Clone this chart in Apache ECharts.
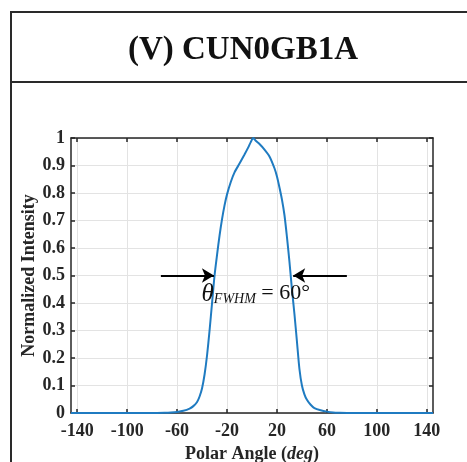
<!DOCTYPE html>
<html>
<head>
<meta charset="utf-8">
<script src="https://cdn.jsdelivr.net/npm/echarts@6/dist/echarts.min.js"></script>
<style>
html,body{margin:0;padding:0;background:#fff;}
#chart{width:467px;height:462px;}
</style>
</head>
<body>
<div id="chart"></div>
<script>
// ---- data ----
const titleText = '(V) CUN0GB1A';
const xTicks = [-140, -100, -60, -20, 20, 60, 100, 140];
const xRange = [-145, 145];
const yRange = [0, 1];
const angles = [-145,-130,-110,-90,-80,-70,-65,-60,-55,-50,-47,-44,-42,-40,-38,-36,-34,-32,-30,-28,-26,-24,-22,-20,-17,-14,-10,-6,-3,-1,1,3,6,10,14,18,20,22,24,26,28,30,32,34,36,38,40,42,44,47,50,55,60,65,70,80,100,120,145];
const intensity = [0,0,0,0,0,0.001,0.002,0.004,0.008,0.016,0.025,0.04,0.06,0.09,0.14,0.21,0.30,0.40,0.50,0.575,0.645,0.705,0.755,0.795,0.84,0.875,0.907,0.94,0.966,0.985,1.0,0.99,0.978,0.958,0.933,0.89,0.86,0.82,0.776,0.72,0.64,0.55,0.45,0.36,0.26,0.16,0.10,0.068,0.048,0.03,0.018,0.01,0.005,0.002,0.001,0,0,0,0];
const leftArrow = [[-73, 0.5], [-30.5, 0.5]];
const rightArrow = [[76, 0.5], [33, 0.5]];
const annotationAt = [-40, 0.475];

const serif = '"Liberation Serif","Times New Roman",serif';
const ink = '#262626';
const chart = echarts.init(document.getElementById('chart'), null, {renderer: 'canvas'});

const lineData = angles.map((a, i) => [a, intensity[i]]);

chart.setOption({
  animation: false,
  backgroundColor: '#fff',
  grid: {left: 71, top: 138, right: 34, bottom: 49, containLabel: false, outerBoundsMode: 'none'},
  graphic: [
    {type: 'rect', shape: {x: 11, y: 12, width: 480, height: 480}, style: {fill: 'none', stroke: '#2a2a2a', lineWidth: 2}, z: 100},
    {type: 'line', shape: {x1: 11, y1: 82, x2: 467, y2: 82}, style: {stroke: '#2a2a2a', lineWidth: 2}, z: 100},
    {type: 'text', x: 243, y: 50, style: {text: titleText, font: 'bold 33px ' + serif, fill: '#111', align: 'center', verticalAlign: 'middle'}, z: 100}
  ],
  xAxis: [
    {
      type: 'value', min: xRange[0], max: xRange[1], position: 'bottom',
      name: 'Polar Angle ({i|deg})', nameLocation: 'middle', nameGap: 28,
      nameTextStyle: {fontFamily: serif, fontWeight: 'bold', fontSize: 18, color: ink,
        rich: {i: {fontFamily: serif, fontWeight: 'bold', fontStyle: 'italic', fontSize: 18, color: ink}}},
      axisLine: {show: true, onZero: false, lineStyle: {color: ink, width: 1.5}},
      axisTick: {show: true, inside: true, length: 4, customValues: xTicks, lineStyle: {color: ink, width: 1.5}},
      axisLabel: {customValues: xTicks, fontFamily: serif, fontWeight: 'bold', fontSize: 18, color: ink, margin: 9},
      splitLine: {show: true, lineStyle: {color: '#e3e3e3', width: 1}}
    },
    {
      type: 'value', min: xRange[0], max: xRange[1], position: 'top',
      axisLine: {show: true, onZero: false, lineStyle: {color: ink, width: 1.5}},
      axisTick: {show: true, inside: true, length: 4, customValues: xTicks, lineStyle: {color: ink, width: 1.5}},
      axisLabel: {show: false},
      splitLine: {show: false}
    }
  ],
  yAxis: [
    {
      type: 'value', min: yRange[0], max: yRange[1], interval: 0.1, position: 'left',
      name: 'Normalized Intensity', nameLocation: 'middle', nameGap: 33, nameMoveOverlap: false,
      nameTextStyle: {fontFamily: serif, fontWeight: 'bold', fontSize: 18, color: ink},
      axisLine: {show: true, onZero: false, lineStyle: {color: ink, width: 1.5}},
      axisTick: {show: true, inside: true, length: 4, lineStyle: {color: ink, width: 1.5}},
      axisLabel: {fontFamily: serif, fontWeight: 'bold', fontSize: 18, color: ink, margin: 6},
      splitLine: {show: true, lineStyle: {color: '#e3e3e3', width: 1}}
    },
    {
      type: 'value', min: yRange[0], max: yRange[1], interval: 0.1, position: 'right',
      axisLine: {show: true, onZero: false, lineStyle: {color: ink, width: 1.5}},
      axisTick: {show: true, inside: true, length: 4, lineStyle: {color: ink, width: 1.5}},
      axisLabel: {show: false},
      splitLine: {show: false}
    }
  ],
  series: [
    {
      type: 'line', data: lineData, showSymbol: false, smooth: 0.25,
      lineStyle: {color: '#1f7bc1', width: 2}, z: 3,
      markLine: {
        silent: true, symbol: ['none', 'arrow'], symbolSize: [11, 12], animation: false,
        label: {show: false},
        lineStyle: {color: '#000', width: 2, type: 'solid'},
        data: [
          [{coord: leftArrow[0]}, {coord: leftArrow[1]}],
          [{coord: rightArrow[0]}, {coord: rightArrow[1]}]
        ]
      },
      markPoint: {
        silent: true, symbol: 'rect', symbolSize: 1, itemStyle: {color: 'rgba(0,0,0,0)'},
        label: {
          show: true, position: [0, 0], align: 'left', verticalAlign: 'top',
          formatter: '{t|θ}{s|FWHM}{r| = 60°}',
          rich: {
            t: {fontFamily: serif, fontStyle: 'italic', fontSize: 25, color: '#111', verticalAlign: 'top', lineHeight: 24},
            s: {fontFamily: serif, fontStyle: 'italic', fontSize: 14, color: '#111', verticalAlign: 'bottom', lineHeight: 14, padding: [18, 0, 0, 0]},
            r: {fontFamily: serif, fontSize: 22, color: '#111', verticalAlign: 'top', lineHeight: 24}
          }
        },
        data: [{coord: annotationAt}]
      }
    }
  ]
});
</script>
</body>
</html>
